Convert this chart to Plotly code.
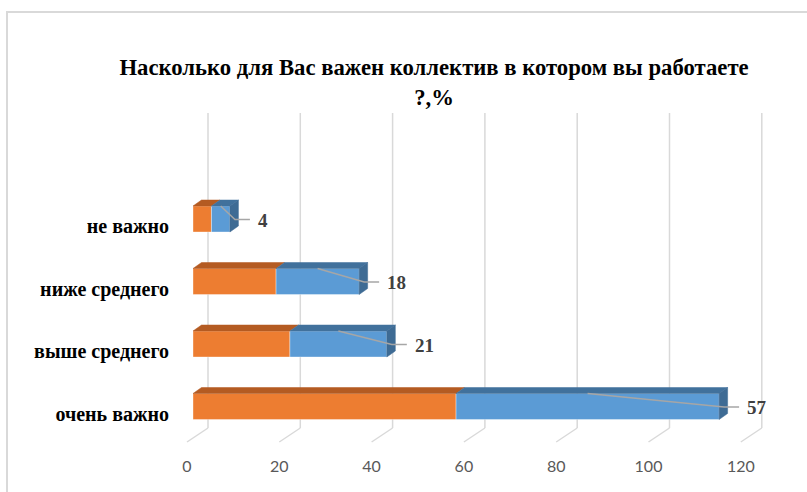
import plotly.graph_objects as go

# ---- data -------------------------------------------------------------
categories = ["очень важно", "выше среднего", "ниже среднего", "не важно"]  # bottom -> top
series_orange = [57, 21, 18, 4]
series_blue = [57, 21, 18, 4]
x_ticks = [0, 20, 40, 60, 80, 100, 120]
title_text = "Насколько для Вас важен коллектив в котором вы работаете<br>?,%"

# ---- geometry (pixels of the 807x492 canvas) --------------------------
FIG_W, FIG_H = 807, 492
PLOT_L, PLOT_R, PLOT_T, PLOT_B = 180, 780, 100, 452
X0_PX, PX_PER_UNIT = 193, 4.615      # value 0 on the bar front plane
Y0_PX, PX_PER_ROW = 406.5, 62.5      # centre of first category row

x_min = -(X0_PX - PLOT_L) / PX_PER_UNIT
x_max = x_min + (PLOT_R - PLOT_L) / PX_PER_UNIT
y_min = -(PLOT_B - Y0_PX) / PX_PER_ROW
y_max = (Y0_PX - PLOT_T) / PX_PER_ROW


def ux(px):
    return px / PX_PER_UNIT


def uy(px):
    return px / PX_PER_ROW


def row_at(px_y):
    return (Y0_PX - px_y) / PX_PER_ROW


BAR_H = uy(26)
DEPTH_X, DEPTH_Y = ux(8.5), uy(6)
FLOOR_SHIFT = ux(6)                  # floor front edge sits left of the bars
FLOOR_DX = ux(21)
FLOOR_FRONT_Y, FLOOR_BACK_Y, WALL_TOP_Y = row_at(442), row_at(428), row_at(113)

ORANGE, ORANGE_DARK = "#ED7D31", "#B45B22"
BLUE, BLUE_DARK = "#5B9BD5", "#41719C"
GRID = "#D9D9D9"
SERIF = "Liberation Serif"

fig = go.Figure()

# floor diagonals, placed on the floor-front axis
gx, gy = [], []
for t in x_ticks:
    gx += [t, t + FLOOR_DX, None]
    gy += [FLOOR_FRONT_Y, FLOOR_BACK_Y, None]
fig.add_trace(go.Scatter(x=gx, y=gy, xaxis="x2", yaxis="y", mode="lines",
                         line=dict(color=GRID, width=1.5), hoverinfo="skip",
                         showlegend=False))

# back-wall gridlines, kept underneath the bars
for t in x_ticks:
    fig.add_shape(type="line", xref="x2", yref="y", layer="below",
                  x0=t + FLOOR_DX, x1=t + FLOOR_DX,
                  y0=FLOOR_BACK_Y, y1=WALL_TOP_Y,
                  line=dict(color=GRID, width=1.5))

rows = list(range(len(categories)))

# front faces of the stacked bars
fig.add_trace(go.Bar(y=rows, x=series_orange, orientation="h", width=BAR_H,
                     marker=dict(color=ORANGE, line=dict(color="rgba(255,255,255,0.6)", width=0.6)),
                     showlegend=False, hoverinfo="skip"))
fig.add_trace(go.Bar(y=rows, x=series_blue, base=series_orange, orientation="h",
                     width=BAR_H,
                     marker=dict(color=BLUE, line=dict(color="rgba(255,255,255,0.6)", width=0.6)),
                     showlegend=False, hoverinfo="skip"))


def poly(xs, ys, color):
    fig.add_trace(go.Scatter(x=xs + [xs[0]], y=ys + [ys[0]], mode="lines",
                             fill="toself", fillcolor=color,
                             line=dict(color=color, width=0.5),
                             hoverinfo="skip", showlegend=False))


# top and side faces
for i, (a, b) in enumerate(zip(series_orange, series_blue)):
    yt, yb = i + BAR_H / 2, i - BAR_H / 2
    for s, e, col in ((0, a, ORANGE_DARK), (a, a + b, BLUE_DARK)):
        poly([s, e, e + DEPTH_X, s + DEPTH_X],
             [yt, yt, yt + DEPTH_Y, yt + DEPTH_Y], col)
    end = a + b
    poly([end, end + DEPTH_X, end + DEPTH_X, end],
         [yb, yb + DEPTH_Y, yt + DEPTH_Y, yt], "#3E6B94")

# leader lines and value labels
for i, (a, b) in enumerate(zip(series_orange, series_blue)):
    end = a + b
    fig.add_trace(go.Scatter(
        x=[a + b / 2, end + ux(5), end + ux(20)],
        y=[i + BAR_H / 2, i - uy(0.5), i - uy(0.5)],
        mode="lines", line=dict(color="#A6A6A6", width=1.5),
        hoverinfo="skip", showlegend=False))
    fig.add_annotation(x=end, y=i, xref="x", yref="y", text=str(b),
                       showarrow=False, xanchor="left", xshift=26, yshift=-1,
                       font=dict(family=SERIF, size=19, color="#404040",
                                 weight="bold"))

# chart-area border
fig.add_shape(type="rect", xref="paper", yref="paper",
              x0=7 / FIG_W, x1=1.02, y0=-0.02, y1=1 - 12 / FIG_H,
              line=dict(color=GRID, width=2), fillcolor="rgba(0,0,0,0)")

fig.update_layout(
    width=FIG_W, height=FIG_H,
    margin=dict(l=0, r=0, t=0, b=0),
    paper_bgcolor="white", plot_bgcolor="rgba(0,0,0,0)",
    barmode="overlay",
    title=dict(text=title_text, x=434 / FIG_W, xanchor="center",
               y=1 - 75 / FIG_H, yanchor="top", xref="paper", yref="paper",
               font=dict(family=SERIF, size=22.7, color="#000000", weight="bold")),
    xaxis=dict(domain=[PLOT_L / FIG_W, PLOT_R / FIG_W], range=[x_min, x_max],
               showgrid=False, zeroline=False, showticklabels=False,
               showline=False, fixedrange=True),
    xaxis2=dict(overlaying="x", anchor="y", side="bottom",
                range=[x_min + FLOOR_SHIFT, x_max + FLOOR_SHIFT],
                tickvals=x_ticks, ticks="", showgrid=False, zeroline=False,
                showline=False, ticklabelstandoff=3,
                tickfont=dict(family="Lato", size=16, color="#595959")),
    yaxis=dict(domain=[1 - PLOT_B / FIG_H, 1 - PLOT_T / FIG_H],
               range=[y_min, y_max], tickvals=rows, ticktext=categories,
               ticks="", showgrid=False, zeroline=False, showline=False,
               ticklabelstandoff=10, ticklabelshift=7,
               tickfont=dict(family=SERIF, size=20, color="#000000",
                             weight="bold")),
)

fig.write_html("out.html")
